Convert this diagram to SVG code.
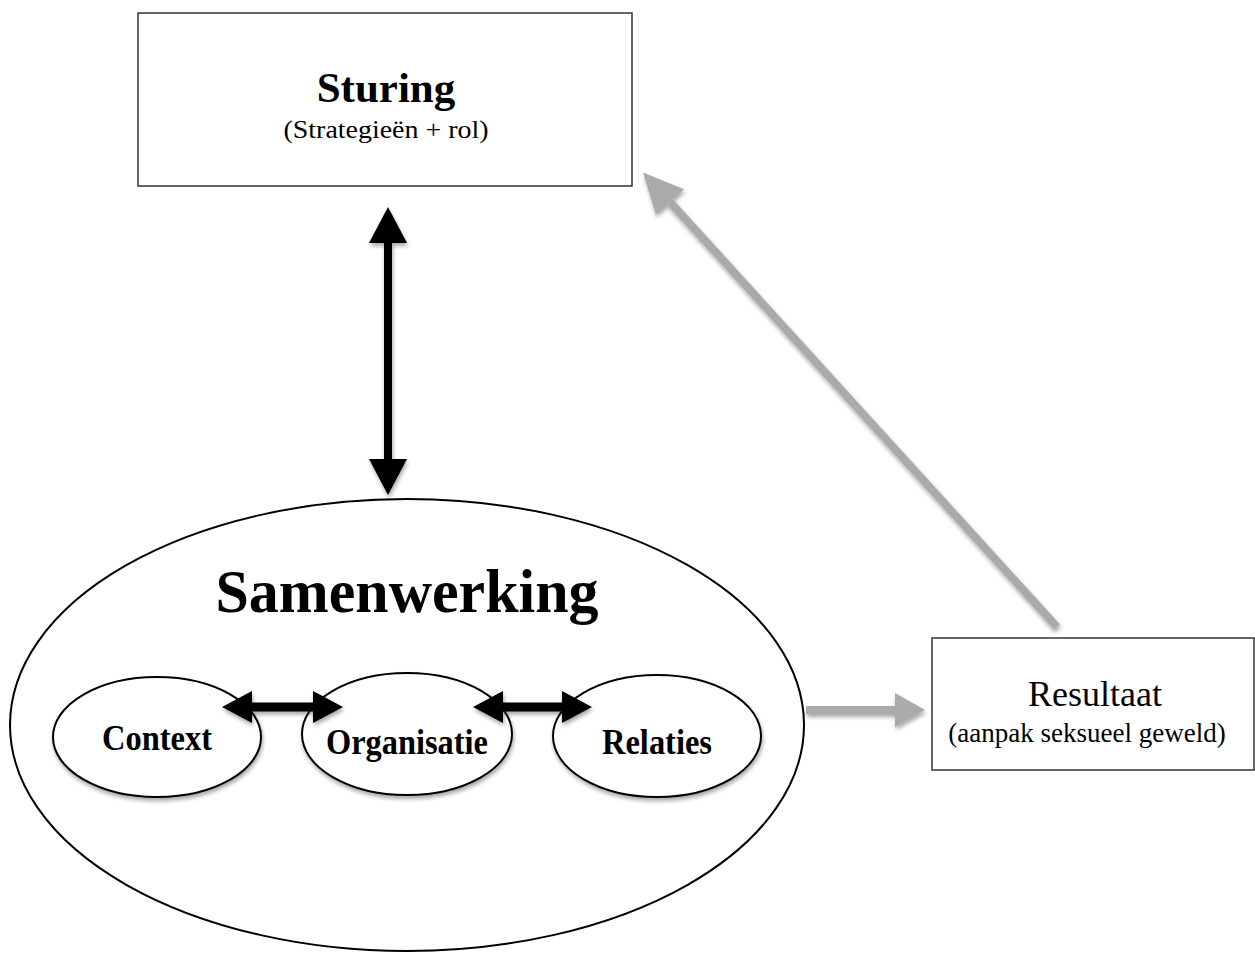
<svg xmlns="http://www.w3.org/2000/svg" width="1255" height="954" viewBox="0 0 1255 954">
<defs>
<style>
.box{fill:#fff;stroke:#333;stroke-width:1.5}
.ell{fill:#fff;stroke:#000;stroke-width:2}
.t{font-family:"Liberation Serif","Times New Roman",serif;text-anchor:middle;fill:#000}
.b{font-weight:bold}
.blk{stroke:#000;fill:none}
.gry{stroke:#aaa;fill:none}
</style>
<filter id="sh" x="-20%" y="-20%" width="140%" height="140%">
<feGaussianBlur in="SourceAlpha" stdDeviation="2"/>
<feOffset dx="1" dy="3" result="o"/>
<feComponentTransfer><feFuncA type="linear" slope="0.35"/></feComponentTransfer>
<feMerge><feMergeNode/><feMergeNode in="SourceGraphic"/></feMerge>
</filter>
<marker id="hb" markerUnits="userSpaceOnUse" markerWidth="36" markerHeight="38" refX="0" refY="19" orient="auto-start-reverse" viewBox="0 0 36 38"><path d="M0,0 L36,19 L0,38 z" fill="#000"/></marker>
<marker id="hs" markerUnits="userSpaceOnUse" markerWidth="30" markerHeight="32" refX="0" refY="16" orient="auto-start-reverse" viewBox="0 0 30 32"><path d="M0,0 L30,16 L0,32 z" fill="#000"/></marker>
<marker id="hg" markerUnits="userSpaceOnUse" markerWidth="30" markerHeight="34" refX="0" refY="17" orient="auto" viewBox="0 0 30 34"><path d="M0,0 L30,17 L0,34 z" fill="#aaa"/></marker>
<marker id="hgd" markerUnits="userSpaceOnUse" markerWidth="40" markerHeight="38" refX="0" refY="19" orient="auto" viewBox="0 0 40 38"><path d="M0,0 L40,19 L0,38 z" fill="#aaa"/></marker>
</defs>
<rect width="1255" height="954" fill="#fff"/>

<g id="sturing">
<rect class="box" x="138" y="13" width="494" height="173"/>
<text class="t b" x="386" y="102" font-size="43">Sturing</text>
<text class="t" x="386" y="138" font-size="25" textLength="205" lengthAdjust="spacingAndGlyphs">(Strategieën + rol)</text>
</g>

<g id="samenwerking">
<ellipse class="ell" cx="407" cy="725" rx="397" ry="226"/>
<text class="t b" x="407" y="612" font-size="62" textLength="383" lengthAdjust="spacingAndGlyphs">Samenwerking</text>
</g>

<g id="context">
<ellipse class="ell" cx="157" cy="737" rx="104" ry="60" filter="url(#sh)"/>
<text class="t b" x="157" y="750" font-size="35" textLength="110" lengthAdjust="spacingAndGlyphs">Context</text>
</g>

<g id="organisatie">
<ellipse class="ell" cx="407" cy="734" rx="105" ry="61" filter="url(#sh)"/>
<text class="t b" x="407" y="754" font-size="35" textLength="162" lengthAdjust="spacingAndGlyphs">Organisatie</text>
</g>

<g id="relaties">
<ellipse class="ell" cx="657" cy="736" rx="104" ry="61" filter="url(#sh)"/>
<text class="t b" x="657" y="754" font-size="35" textLength="110" lengthAdjust="spacingAndGlyphs">Relaties</text>
</g>

<g id="resultaat">
<rect class="box" x="932" y="638" width="322" height="132"/>
<text class="t" x="1095" y="706" font-size="36">Resultaat</text>
<text class="t" x="1087" y="742" font-size="27">(aanpak seksueel geweld)</text>
</g>

<g id="connectors" filter="url(#sh)">
<line class="blk" x1="388" y1="243" x2="388" y2="459" stroke-width="8" marker-start="url(#hb)" marker-end="url(#hb)"/>
<line class="blk" x1="252" y1="707" x2="313" y2="707" stroke-width="9" marker-start="url(#hs)" marker-end="url(#hs)"/>
<line class="blk" x1="503" y1="707" x2="562" y2="707" stroke-width="9" marker-start="url(#hs)" marker-end="url(#hs)"/>
<line class="gry" x1="806" y1="710" x2="895" y2="710" stroke-width="8" marker-end="url(#hg)"/>
<line class="gry" x1="1057" y1="627" x2="670" y2="202" stroke-width="8" marker-end="url(#hgd)"/>
</g>
</svg>
